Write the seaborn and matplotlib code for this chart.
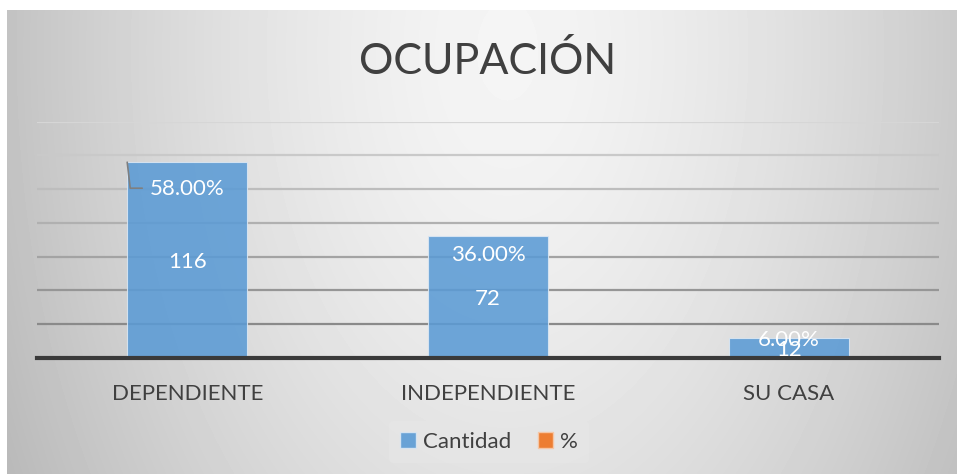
import numpy as np
import seaborn as sns
import matplotlib.pyplot as plt
from matplotlib.patches import Patch

# datos del grafico
categorias = ["DEPENDIENTE", "INDEPENDIENTE", "SU CASA"]
cantidad = [116, 72, 12]
porcentaje = [0.58, 0.36, 0.06]
series = ["Cantidad", "%"]

azul = "#5b9bd5"
naranja = "#ed7d31"
gris_texto = "#404040"

sns.set_style("white")
plt.rcParams['font.family'] = ['Liberation Sans Narrow', 'Lato', 'DejaVu Sans']

fig = plt.figure(figsize=(9.57, 4.74), dpi=100)
fig.patch.set_facecolor("white")

# fondo degradado del area del grafico
bg = fig.add_axes([7 / 957, 0, 950 / 957, 464 / 474])
yy, xx = np.mgrid[0:464, 0:950]
d = np.sqrt(((xx - 500) / 490) ** 2 + ((yy - 40) / 800) ** 2)
shade = np.clip(0.96 - 0.19 * d ** 1.5, 0, 1)
bg.imshow(shade, cmap="gray", vmin=0, vmax=1, aspect="auto")
bg.set_axis_off()

ax = fig.add_axes([37 / 957, 116 / 474, 902 / 957, 236.3 / 474])
ax.patch.set_alpha(0)

sns.barplot(x=categorias, y=cantidad, color=azul, width=0.4, alpha=0.88,
            saturation=1, edgecolor="#dbe7f3", linewidth=0.8, ax=ax, zorder=2)
sns.barplot(x=categorias, y=porcentaje, color=naranja, width=0.4,
            saturation=1, ax=ax, zorder=2)

ax.set_ylim(0, 140)
ax.set_xlim(-0.5, 2.5)
ax.set_yticks(np.arange(20, 141, 20))
ax.yaxis.grid(True, linewidth=1.6)
ax.set_axisbelow(True)
lines = ax.get_ygridlines()
for i, gl in enumerate(lines):
    c = 0.54 + 0.3 * i / (len(lines) - 1)
    gl.set_color((c, c, c))
ax.tick_params(axis="y", left=False, labelleft=False)
ax.tick_params(axis="x", bottom=False, labelsize=16, colors=gris_texto, pad=15)
for s in ["top", "right", "left"]:
    ax.spines[s].set_visible(False)
ax.spines["bottom"].set_color("#3a3a3a")
ax.spines["bottom"].set_linewidth(3)
ax.spines["bottom"].set_zorder(5)
ax.set_xlabel("")
ax.set_ylabel("")

# etiquetas de datos
barras = ax.patches[:len(cantidad)]
desplaz = [-27, -19, -2]
for i, (b, v, p) in enumerate(zip(barras, cantidad, porcentaje)):
    xc = b.get_x() + b.get_width() / 2
    ax.annotate(str(v), (xc, v / 2), xytext=(0, -2), textcoords="offset pixels",
                ha="center", va="center", color="white", fontsize=16, zorder=6)
    ax.annotate(f"{p * 100:.2f}%", (xc, v), xytext=(0, desplaz[i]),
                textcoords="offset pixels", ha="center", va="center",
                color="white", fontsize=16, zorder=6)

# linea guia de la primera etiqueta
b0 = barras[0]
x0 = b0.get_x()
ax.plot([x0, x0 + 0.01, x0 + 0.05], [cantidad[0], cantidad[0] - 15.4, cantidad[0] - 15.4],
        color="#7f7f7f", linewidth=1.2, zorder=6)

fig.text(0.509, 0.872, "OCUPACIÓN", ha="center", va="center",
         fontsize=31, color=gris_texto)

handles = [Patch(facecolor=azul, alpha=0.9, edgecolor="#dbe7f3"),
           Patch(facecolor=naranja, edgecolor="#f5c6a5")]
leg = fig.legend(handles, series, loc="center", bbox_to_anchor=(0.511, 0.068),
                 ncol=2, frameon=True, fontsize=16, handlelength=0.7,
                 handleheight=0.7, handletextpad=0.3, columnspacing=1.2,
                 borderpad=0.5)
leg.get_frame().set_facecolor("#e6e6e6")
leg.get_frame().set_edgecolor("none")
leg.get_frame().set_alpha(0.7)
for t in leg.get_texts():
    t.set_color(gris_texto)

fig.savefig("out.png", dpi=100)
